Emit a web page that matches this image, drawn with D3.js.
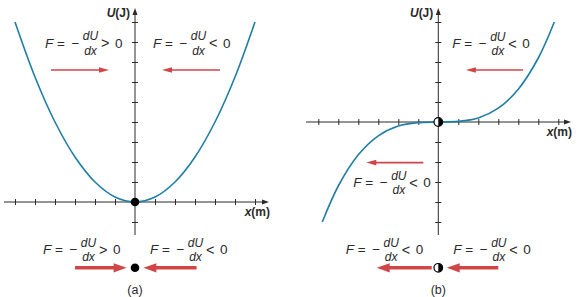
<!DOCTYPE html>
<html>
<head>
<meta charset="utf-8">
<script src="https://cdn.jsdelivr.net/npm/d3@7"></script>
<style>
  body { margin: 0; background: #fff; }
  text { font-family: "Liberation Sans", Arial, sans-serif; fill: #2b2b2b; }
</style>
</head>
<body>
<svg id="chart"></svg>
<script>
// curve (a): potential well
var xA = [-6, -5, -4, -3, -2, -1, 0, 1, 2, 3, 4, 5, 6];
var uA = [9, 6.25, 4, 2.25, 1, 0.25, 0, 0.25, 1, 2.25, 4, 6.25, 9];

// curve (b): inflection point at the origin
var xB = [-5.8, -5, -4, -3, -2, -1, 0, 1, 2, 3, 4, 5, 5.8];
var uB = [-5, -3.2, -1.64, -0.69, -0.2, -0.03, 0, 0.03, 0.2, 0.69, 1.64, 3.2, 5];

// tick values
var xTicks = [-6, -5, -4, -3, -2, -1, 1, 2, 3, 4, 5, 6];
var uTicksA = [-1, 1, 2, 3, 4, 5, 6, 7, 8, 9];
var uTicksB = [-5, -4, -3, -2, -1, 1, 2, 3, 4, 5];

var W = 584, H = 297;
var curveColor = "#1f7ea3", red = "#cf4649", ink = "#2b2b2b";

var svg = d3.select("#chart").attr("width", W).attr("height", H);

// ---- helpers ----
function hArrow(g, x1, x2, y, sw, hl, hw) {
  var dir = x2 > x1 ? 1 : -1;
  g.append("line")
      .attr("x1", x1).attr("x2", x2 - dir * (hl - 1))
      .attr("y1", y).attr("y2", y)
      .attr("stroke", red).attr("stroke-width", sw);
  g.append("path")
      .attr("d", "M" + x2 + "," + y + "L" + (x2 - dir * hl) + "," + (y - hw) +
                 "L" + (x2 - dir * hl) + "," + (y + hw) + "Z")
      .attr("fill", red);
}

function formula(g, x0, base, sign) {
  g.append("text").attr("x", x0).attr("y", base)
      .style("font-size", "13.5px").style("font-style", "italic").text("F");
  g.append("text").attr("x", x0 + 12).attr("y", base)
      .style("font-size", "13.5px").text("=");
  g.append("text").attr("x", x0 + 26.5).attr("y", base)
      .style("font-size", "13.5px").text("\u2212");
  g.append("text").attr("x", x0 + 45.5).attr("y", base - 7.5)
      .attr("text-anchor", "middle")
      .style("font-size", "12px").style("font-style", "italic").text("dU");
  g.append("text").attr("x", x0 + 45.5).attr("y", base + 7)
      .attr("text-anchor", "middle")
      .style("font-size", "12px").style("font-style", "italic").text("dx");
  g.append("text").attr("x", x0 + 56).attr("y", base + 0.5)
      .style("font-size", "14.5px").text(sign);
  g.append("text").attr("x", x0 + 70).attr("y", base)
      .style("font-size", "13.5px").text("0");
}

function panel(opt) {
  var g = svg.append("g");
  var x = d3.scaleLinear().domain([-6, 6]).range(opt.xRange);
  var y = d3.scaleLinear().domain(opt.uDomain).range(opt.yRange);
  var x0 = x(0), y0 = y(0);

  // axes lines with arrow tips
  g.append("line").attr("x1", opt.xStart).attr("x2", opt.xEnd - 4)
      .attr("y1", y0).attr("y2", y0).attr("stroke", ink).attr("stroke-width", 1);
  g.append("path")
      .attr("d", "M" + opt.xEnd + "," + y0 + "L" + (opt.xEnd - 7) + "," + (y0 - 2.5) +
                 "L" + (opt.xEnd - 7) + "," + (y0 + 2.5) + "Z")
      .attr("fill", ink);
  g.append("line").attr("x1", x0).attr("x2", x0)
      .attr("y1", opt.yEnd + 4).attr("y2", opt.yStart)
      .attr("stroke", ink).attr("stroke-width", 1);
  g.append("path")
      .attr("d", "M" + x0 + "," + opt.yEnd + "L" + (x0 - 2.5) + "," + (opt.yEnd + 7) +
                 "L" + (x0 + 2.5) + "," + (opt.yEnd + 7) + "Z")
      .attr("fill", ink);

  // crossing ticks
  var ax = g.append("g").attr("transform", "translate(0," + (y0 - 3) + ")")
      .call(d3.axisBottom(x).tickValues(xTicks).tickSize(6).tickFormat(""));
  var ay = g.append("g").attr("transform", "translate(" + (x0 + 3) + ",0)")
      .call(d3.axisLeft(y).tickValues(opt.uTicks).tickSize(6).tickFormat(""));
  [ax, ay].forEach(function(a) {
    a.select(".domain").remove();
    a.selectAll(".tick line").attr("stroke", ink);
  });

  // axis titles
  var uLab = g.append("text").attr("x", x0 - 5).attr("y", opt.yEnd + 9)
      .attr("text-anchor", "end").style("font-size", "12px").style("font-weight", "bold");
  uLab.append("tspan").style("font-style", "italic").text("U");
  uLab.append("tspan").text("(J)");
  var xLab = g.append("text").attr("x", opt.xEnd + 1).attr("y", y0 + 14)
      .attr("text-anchor", "end").style("font-size", "12px").style("font-weight", "bold");
  xLab.append("tspan").style("font-style", "italic").text("x");
  xLab.append("tspan").text("(m)");

  // potential curve
  var pts = opt.xs.map(function(v, i) { return [v, opt.us[i]]; });
  g.append("path").datum(pts)
      .attr("fill", "none").attr("stroke", curveColor).attr("stroke-width", 1.6)
      .attr("d", d3.line().x(function(d) { return x(d[0]); })
                          .y(function(d) { return y(d[1]); })
                          .curve(d3.curveCatmullRom));

  // force annotations
  opt.formulas.forEach(function(f) { formula(g, x(f[0]), y(f[1]), f[2]); });
  opt.thin.forEach(function(a) { hArrow(g, x(a[0]), x(a[1]), y(a[2]), 1.6, 10, 2.8); });
  opt.thick.forEach(function(a) { hArrow(g, x(a[0]), x(a[1]), y(a[2]), 3.4, 13, 4.6); });

  // equilibrium points
  opt.dots.forEach(function(d) {
    var cx = x(0), cy = y(d), r = 4.3;
    if (opt.half) {
      g.append("circle").attr("cx", cx).attr("cy", cy).attr("r", r)
          .attr("fill", "#fff").attr("stroke", "#000").attr("stroke-width", 1.2);
      g.append("path")
          .attr("d", "M" + cx + "," + (cy - r) + "A" + r + "," + r + " 0 0 1 " + cx + "," + (cy + r) + "Z")
          .attr("fill", "#000");
    } else {
      g.append("circle").attr("cx", cx).attr("cy", cy).attr("r", r).attr("fill", "#000");
    }
  });

  g.append("text").attr("x", x0).attr("y", y(opt.capU))
      .attr("text-anchor", "middle").style("font-size", "12.5px").text(opt.caption);
}

// (a) stable equilibrium
panel({
  xRange: [15, 255], uDomain: [0, 9], yRange: [202, 22],
  xStart: 4, xEnd: 269, yStart: 235, yEnd: 8,
  uTicks: uTicksA, xs: xA, us: uA,
  formulas: [[-4.5, 7.72, ">"], [0.9, 7.72, "<"], [-4.6, -2.6, ">"], [0.75, -2.6, "<"]],
  thin: [[-4.2, -1.3, 6.6], [4.25, 1.35, 6.6]],
  thick: [[-3, -0.42, -3.29], [3.08, 0.42, -3.29]],
  dots: [0, -3.29], half: false,
  caption: "(a)", capU: -4.6
});

// (b) inflection point
panel({
  xRange: [318.3, 558.3], uDomain: [-5, 5], yRange: [222, 22],
  xStart: 306, xEnd: 571, yStart: 235, yEnd: 8,
  uTicks: uTicksB, xs: xB, us: uB,
  formulas: [[0.7, 3.7, "<"], [-4.25, -3.25, "<"], [-4.63, -6.6, "<"], [0.75, -6.6, "<"]],
  thin: [[4.24, 1.38, 2.6], [-0.75, -3.6, -2.03]],
  thick: [[-0.33, -3.08, -7.29], [3.0, 0.42, -7.29]],
  dots: [0, -7.29], half: true,
  caption: "(b)", capU: -8.6
});
</script>
</body>
</html>
